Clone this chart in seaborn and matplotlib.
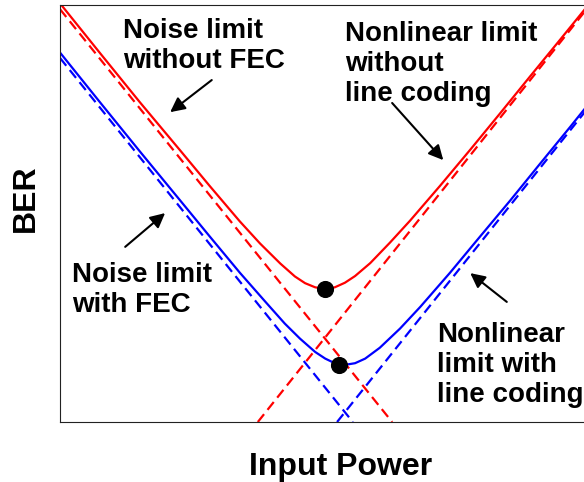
import matplotlib

matplotlib.use("Agg")

import matplotlib.pyplot as plt
import pandas as pd
import seaborn as sns

# arbitrary units: input power 0-10 to the right, log BER 0-10 upwards
red_x = [0.00, 0.71, 1.42, 2.14, 2.67, 3.20, 3.56, 3.92, 4.18, 4.36, 4.54, 4.72,
         4.89, 5.07, 5.25, 5.52, 5.87, 6.23, 6.76, 7.30, 7.83, 8.36, 8.90, 9.43]
red_y = [10.04, 8.85, 7.67, 6.51, 5.65, 4.81, 4.28, 3.80, 3.49, 3.33, 3.23, 3.19,
         3.23, 3.34, 3.50, 3.81, 4.30, 4.83, 5.66, 6.53, 7.40, 8.28, 9.17, 10.05]

blue_x = [0.00, 0.71, 1.42, 2.14, 2.67, 3.20, 3.65, 4.00, 4.27, 4.54, 4.72, 4.89,
          5.07, 5.25, 5.43, 5.69, 6.05, 6.41, 6.94, 7.47, 8.01, 8.54, 9.08, 9.61, 10.00]
blue_y = [8.86, 7.67, 6.49, 5.31, 4.44, 3.58, 2.89, 2.36, 2.00, 1.68, 1.52, 1.41,
          1.37, 1.41, 1.52, 1.78, 2.24, 2.76, 3.58, 4.44, 5.31, 6.19, 7.08, 7.97, 8.62]

# asymptotes (dashed)
noise_nofec_x = [0.0, 5.91]
noise_nofec_y = [9.90, 0.0]
nonlin_nocode_x = [3.52, 9.43]
nonlin_nocode_y = [0.0, 10.0]
noise_fec_x = [0.0, 5.21]
noise_fec_y = [8.73, 0.0]
nonlin_code_x = [4.93, 10.0]
nonlin_code_y = [0.0, 8.55]

# optimum operating points
opt_x = [4.72, 4.96]
opt_y = [3.19, 1.37]

labels = ["Noise limit\nwithout FEC", "Nonlinear limit\nwithout\nline coding",
          "Noise limit\nwith FEC", "Nonlinear\nlimit with\nline coding"]
label_x = [1.12, 5.07, 0.21, 6.71]
label_y = [8.49, 7.70, 2.64, 0.47]  # baseline of the last line
arrow_tail = [(2.70, 8.20), (5.91, 7.65), (1.16, 4.20), (7.95, 2.88)]
arrow_head = [(1.96, 7.43), (6.82, 6.28), (1.87, 5.01), (7.30, 3.57)]

RED = "#ff0000"
BLUE = "#0000ff"

sns.set_style("white")
plt.rcParams["font.family"] = ["Liberation Sans", "DejaVu Sans"]
plt.rcParams["font.weight"] = "bold"
plt.rcParams["text.color"] = "black"
plt.rcParams["axes.labelcolor"] = "black"

fig = plt.figure(figsize=(5.84, 4.82), dpi=100)
# axes runs past the right edge of the picture, as in the cropped original
ax = fig.add_axes([60 / 584, 60 / 482, 562 / 584, 417 / 482])

curves = pd.DataFrame({"x": red_x, "y": red_y})
sns.lineplot(data=curves, x="x", y="y", sort=False, estimator=None, color=RED, lw=1.6, ax=ax)
curves = pd.DataFrame({"x": blue_x, "y": blue_y})
sns.lineplot(data=curves, x="x", y="y", sort=False, estimator=None, color=BLUE, lw=1.6, ax=ax)

for xs, ys, col in [(noise_nofec_x, noise_nofec_y, RED), (nonlin_nocode_x, nonlin_nocode_y, RED),
                    (noise_fec_x, noise_fec_y, BLUE), (nonlin_code_x, nonlin_code_y, BLUE)]:
    sns.lineplot(x=xs, y=ys, sort=False, estimator=None, color=col, lw=1.6, ax=ax)
    ax.lines[-1].set_dashes((4.5, 2.5))

sns.scatterplot(x=opt_x, y=opt_y, color="black", s=130, edgecolor="black", zorder=5, ax=ax)

for text, tx, ty in zip(labels, label_x, label_y):
    ax.text(tx, ty, text, fontsize=20, fontweight="bold", ha="left", va="baseline",
            linespacing=1.2, color="black")

for tail, head in zip(arrow_tail, arrow_head):
    ax.annotate("", xy=head, xytext=tail,
                arrowprops=dict(arrowstyle="-|>", color="black", lw=1.5,
                                mutation_scale=22, shrinkA=0, shrinkB=0))

ax.set_xlim(0, 10)
ax.set_ylim(0, 10)
ax.set_xticks([])
ax.set_yticks([])
ax.set_xlabel("Input Power", fontsize=23, fontweight="bold", labelpad=21.5)
ax.set_ylabel("BER", fontsize=23, fontweight="bold", labelpad=14)
ax.yaxis.label.set_y(0.537)
for spine in ax.spines.values():
    spine.set_color("#222222")
    spine.set_linewidth(0.8)

fig.savefig("out.png", dpi=100)
